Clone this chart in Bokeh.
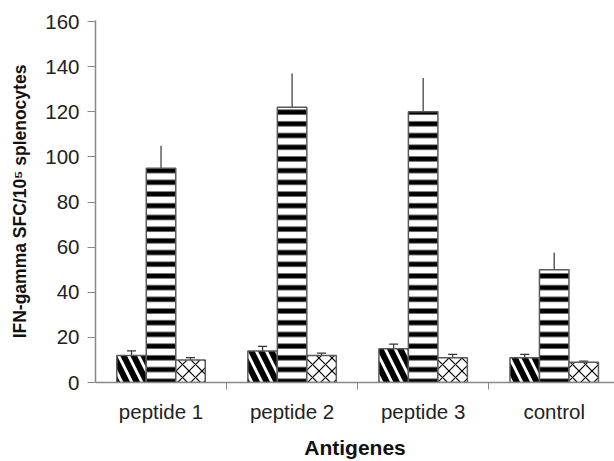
import numpy as np
from bokeh.plotting import figure
from bokeh.models import ColumnDataSource, Whisker, FixedTicker, TeeHead, Range1d
from bokeh.embed import file_html
from bokeh.resources import INLINE

categories = ["peptide 1", "peptide 2", "peptide 3", "control"]
series_a = [12, 14, 15, 11]
series_a_err = [2, 2, 2, 1.5]
series_b = [95, 122, 120, 50]
series_b_err = [10, 15, 15, 7.5]
series_c = [10, 12, 11, 9]
series_c_err = [1, 1, 1.5, 0.5]
y_ticks = [0, 20, 40, 60, 80, 100, 120, 140, 160]

bar_w = 0.225
centers = np.arange(len(categories)) + 0.5

p = figure(width=614, height=461, output_backend="svg", toolbar_location=None,
           x_range=Range1d(0, 3.96), y_range=Range1d(0, 160.5),
           min_border_left=95, min_border_right=0, min_border_top=20, min_border_bottom=70)
p.outline_line_color = None
p.grid.grid_line_color = None
p.background_fill_color = "white"

series = [
    (series_a, series_a_err, -bar_w, dict(hatch_pattern="\\", hatch_scale=20, hatch_weight=6), False),
    (series_b, series_b_err, 0.0, dict(hatch_pattern="-", hatch_scale=11.7, hatch_weight=5), True),
    (series_c, series_c_err, bar_w, dict(hatch_pattern="x", hatch_scale=13, hatch_weight=1.2), False),
]
for vals, errs, off, hatch, tall in series:
    xs = centers + off
    v = np.array(vals, dtype=float)
    e = np.array(errs, dtype=float)
    src = ColumnDataSource(dict(x=xs, top=v, upper=v + e, lower=(v - e) if tall else v))
    p.vbar(x="x", top="top", width=bar_w, source=src, fill_color="white",
           line_color="#5a5a5a", line_width=1.5, hatch_color="black", **hatch)
    head = TeeHead(size=9, line_color="#333333", line_width=1.2)
    w = Whisker(base="x", upper="upper", lower="lower", source=src,
                line_color="#333333", line_width=1.2,
                upper_head=None if tall else head,
                lower_head=head if tall else None)
    p.add_layout(w)

FONT = "Liberation Sans"

# x axis
p.xaxis.ticker = FixedTicker(ticks=list(centers), minor_ticks=[1, 2, 3])
p.xaxis.major_label_overrides = {float(c): lab for c, lab in zip(centers, categories)}
p.xaxis.major_tick_out = 0
p.xaxis.major_tick_in = 0
p.xaxis.minor_tick_out = 7
p.xaxis.minor_tick_in = 0
p.xaxis.minor_tick_line_color = "#888888"
p.xaxis.axis_line_color = "#888888"
p.xaxis.axis_line_width = 1.5
p.xaxis.major_label_standoff = 10
p.xaxis.major_label_text_font = FONT
p.xaxis.major_label_text_font_size = "20.5px"
p.xaxis.major_label_text_color = "#222222"
p.xaxis.axis_label = "Antigenes"
p.xaxis.axis_label_text_font = FONT
p.xaxis.axis_label_text_font_style = "bold"
p.xaxis.axis_label_text_font_size = "21px"
p.xaxis.axis_label_text_color = "#111111"
p.xaxis.axis_label_standoff = 10

# y axis
p.yaxis.ticker = FixedTicker(ticks=y_ticks)
p.yaxis.minor_tick_line_color = None
p.yaxis.major_tick_out = 8
p.yaxis.major_tick_in = 0
p.yaxis.major_tick_line_color = "#888888"
p.yaxis.axis_line_color = "#888888"
p.yaxis.axis_line_width = 1.5
p.yaxis.major_label_standoff = 8
p.yaxis.major_label_text_font = FONT
p.yaxis.major_label_text_font_size = "20.5px"
p.yaxis.major_label_text_color = "#222222"
p.yaxis.axis_label = "IFN-gamma SFC/10\u2075 splenocytes"
p.yaxis.axis_label_text_font = FONT
p.yaxis.axis_label_text_font_style = "bold"
p.yaxis.axis_label_text_font_size = "17.5px"
p.yaxis.axis_label_text_color = "#111111"
p.yaxis.axis_label_standoff = 12

open("out.html", "w").write(file_html(p, INLINE))
